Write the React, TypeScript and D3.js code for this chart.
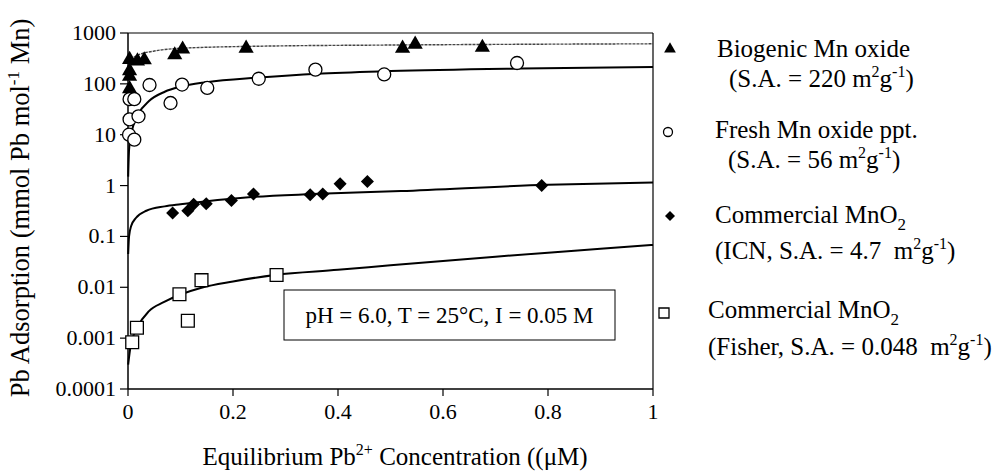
import React from 'react';
import * as d3 from 'd3';

const W = 1005;
const H = 475;
const X0 = 128, X1 = 653, Y0 = 389, Y1 = 33;

const xTicks = [0, 0.2, 0.4, 0.6, 0.8, 1];
const xTickLabels = ['0', '0.2', '0.4', '0.6', '0.8', '1'];
const yTicks = [0.0001, 0.001, 0.01, 0.1, 1, 10, 100, 1000];
const yTickLabels = ['0.0001', '0.001', '0.01', '0.1', '1', '10', '100', '1000'];

// measured points [C (uM), q (mmol Pb / mol Mn)]
const biogenicPts = [
  [0.003, 300], [0.003, 180], [0.003, 140], [0.003, 80], [0.018, 280], [0.031, 295],
  [0.089, 370], [0.104, 480], [0.225, 500], [0.523, 500], [0.547, 600], [0.675, 520],
];
const freshPts = [
  [0.002, 10], [0.003, 20], [0.003, 50], [0.012, 50], [0.012, 8], [0.02, 23],
  [0.041, 95], [0.081, 42], [0.103, 97], [0.151, 83], [0.249, 126], [0.357, 190],
  [0.488, 153], [0.741, 257],
];
const icnPts = [
  [0.085, 0.29], [0.114, 0.32], [0.125, 0.43], [0.149, 0.44], [0.197, 0.51], [0.239, 0.68],
  [0.347, 0.66], [0.371, 0.68], [0.404, 1.08], [0.456, 1.2], [0.788, 1.0],
];
const fisherPts = [
  [0.008, 0.00083], [0.017, 0.0016], [0.098, 0.0073], [0.114, 0.0022], [0.14, 0.0138], [0.283, 0.0174],
];

// fitted curves
const biogenicFit = [
  [0.0005, 120], [0.002, 220], [0.005, 283], [0.018, 364], [0.05, 442], [0.1, 500],
  [0.25, 550], [0.5, 580], [0.75, 600], [1.0, 613],
];
const freshFit = [
  [0.0003, 1.5], [0.002, 5], [0.005, 9], [0.01, 15], [0.02, 26], [0.04, 46], [0.07, 70],
  [0.1, 88], [0.15, 108], [0.25, 133], [0.36, 158], [0.5, 178], [0.75, 200], [1.0, 214],
];
const icnFit = [
  [0.0003, 0.045], [0.002, 0.1], [0.006, 0.16], [0.015, 0.23], [0.035, 0.32], [0.07, 0.39],
  [0.1, 0.43], [0.23, 0.59], [0.35, 0.68], [0.52, 0.78], [0.8, 1.04], [1.0, 1.15],
];
const fisherFit = [
  [0.0003, 0.0003], [0.005, 0.0007], [0.019, 0.0017], [0.04, 0.0034], [0.068, 0.0051],
  [0.1, 0.0072], [0.14, 0.0098], [0.2, 0.013], [0.28, 0.0175], [0.4, 0.022], [0.5, 0.027],
  [0.6, 0.033], [0.7, 0.04], [0.8, 0.048], [0.9, 0.057], [1.0, 0.068],
];

const font = '"Liberation Serif", "Times New Roman", serif';
const pre = { whiteSpace: 'pre' as const };

// "m2g-1)" unit tail with superscripts
function Units() {
  return (
    <>
      m<tspan dy={-10} fontSize={16}>2</tspan>
      <tspan dy={10}>g</tspan>
      <tspan dy={-10} fontSize={16}>-1</tspan>
      <tspan dy={10}>)</tspan>
    </>
  );
}

export default function App() {
  const x = d3.scaleLinear().domain([0, 1]).range([X0, X1]);
  const y = d3.scaleLog().domain([0.0001, 1000]).range([Y0, Y1]);

  const line = d3.line<number[]>()
    .x(d => x(d[0]))
    .y(d => y(d[1]))
    .curve(d3.curveMonotoneX);

  const tri = d3.symbol().type(d3.symbolTriangle);
  const sq = d3.symbol().type(d3.symbolSquare);

  return (
    <svg width={W} height={H} style={{ position: 'absolute', left: 0, top: 0, background: '#fff' }}
      fontFamily={font} fill="#000">
      <rect x={0} y={0} width={W} height={H} fill="#fff" />

      {/* frame */}
      <line x1={X0} x2={X1} y1={Y1} y2={Y1} stroke="#000" strokeWidth={1.2} />
      <line x1={X1} x2={X1} y1={Y1} y2={Y0} stroke="#000" strokeWidth={1.2} />
      <line x1={X0} x2={X0} y1={Y1} y2={Y0} stroke="#000" strokeWidth={1.5} />
      <line x1={X0} x2={X1} y1={Y0} y2={Y0} stroke="#000" strokeWidth={1.5} />

      {yTicks.map((t, i) => (
        <g key={'y' + i}>
          <line x1={X0 - 8} x2={X0} y1={y(t)} y2={y(t)} stroke="#000" strokeWidth={1.2} />
          <text x={X0 - 12} y={y(t) + 7} textAnchor="end" fontSize={22}>{yTickLabels[i]}</text>
        </g>
      ))}
      {xTicks.map((t, i) => (
        <g key={'x' + i}>
          <line x1={x(t)} x2={x(t)} y1={Y0} y2={Y0 + 7} stroke="#000" strokeWidth={1.2} />
          <text x={x(t)} y={Y0 + 30} textAnchor="middle" fontSize={22}>{xTickLabels[i]}</text>
        </g>
      ))}

      {/* curves */}
      <path d={line(biogenicFit as any) || ''} fill="none" stroke="#444" strokeWidth={1.4} strokeDasharray="3,1" />
      <path d={line(freshFit as any) || ''} fill="none" stroke="#000" strokeWidth={2} />
      <path d={line(icnFit as any) || ''} fill="none" stroke="#000" strokeWidth={2} />
      <path d={line(fisherFit as any) || ''} fill="none" stroke="#000" strokeWidth={2} />

      {/* points */}
      {biogenicPts.map((d, i) => (
        <path key={'b' + i} d={tri.size(100)() || ''} transform={`translate(${x(d[0])},${y(d[1])})`} fill="#000" />
      ))}
      {freshPts.map((d, i) => (
        <circle key={'f' + i} cx={x(d[0])} cy={y(d[1])} r={6.5} fill="#fff" stroke="#000" strokeWidth={1.3} />
      ))}
      {icnPts.map((d, i) => (
        <path key={'i' + i} d={sq.size(85)() || ''} transform={`translate(${x(d[0])},${y(d[1])}) rotate(45)`} fill="#000" />
      ))}
      {fisherPts.map((d, i) => (
        <path key={'s' + i} d={sq.size(165)() || ''} transform={`translate(${x(d[0])},${y(d[1])})`} fill="#fff" stroke="#000" strokeWidth={1.3} />
      ))}

      {/* condition box */}
      <rect x={284} y={290} width={331} height={50} fill="#fff" stroke="#000" strokeWidth={1} />
      <text x={449.5} y={323} textAnchor="middle" fontSize={23}>pH = 6.0, T = 25°C, I = 0.05 M</text>

      {/* legend */}
      <g fontSize={25}>
        <path d={tri.size(60)() || ''} transform="translate(670,49)" fill="#000" />
        <text x={717} y={57} style={pre}>Biogenic Mn oxide</text>
        <text x={729} y={87} style={pre}>(S.A. = 220 <Units /></text>

        <circle cx={668} cy={132} r={4.5} fill="#fff" stroke="#000" strokeWidth={1.3} />
        <text x={715} y={138} style={pre}>Fresh Mn oxide ppt.</text>
        <text x={728} y={168} style={pre}>(S.A. = 56 <Units /></text>

        <path d={sq.size(50)() || ''} transform="translate(670,216) rotate(45)" fill="#000" />
        <text x={715} y={223} style={pre}>Commercial MnO<tspan dy={7} fontSize={17}>2</tspan></text>
        <text x={715} y={259} style={pre}>(ICN, S.A. = 4.7  <Units /></text>

        <path d={sq.size(100)() || ''} transform="translate(664,313)" fill="#fff" stroke="#000" strokeWidth={1.3} />
        <text x={708} y={318} style={pre}>Commercial MnO<tspan dy={7} fontSize={17}>2</tspan></text>
        <text x={708} y={355} style={pre}>(Fisher, S.A. = 0.048  <Units /></text>
      </g>

      {/* axis titles */}
      <text x={395} y={465} textAnchor="middle" fontSize={25} style={pre}>
        Equilibrium Pb<tspan dy={-10} fontSize={16}>2+</tspan><tspan dy={10}> Concentration ((μM)</tspan>
      </text>
      <text transform="translate(29,208) rotate(-90)" textAnchor="middle" fontSize={26.5} style={pre}>
        Pb Adsorption (mmol Pb mol<tspan dy={-10} fontSize={17}>-1</tspan><tspan dy={10}> Mn)</tspan>
      </text>
    </svg>
  );
}
